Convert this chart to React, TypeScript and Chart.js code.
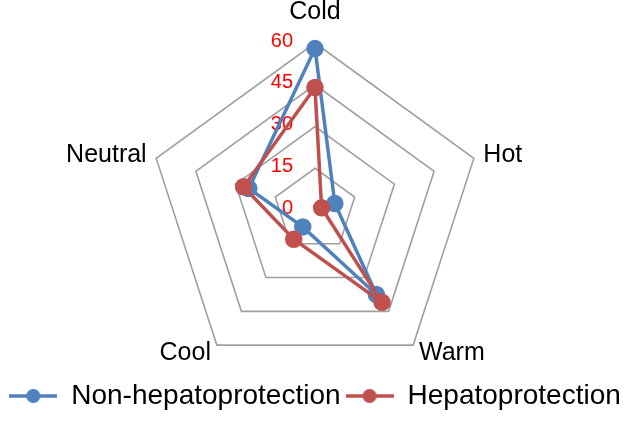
import React, { useEffect, useRef } from "react";
import { Chart, registerables } from "chart.js";

Chart.register(...registerables);

const categories = ["Cold", "Hot", "Warm", "Cool", "Neutral"];
const nonHepatoprotection = [58, 7.5, 37.5, 7.5, 25];
const hepatoprotection = [44, 2.5, 41, 13, 27];
const tickValues = [0, 15, 30, 45, 60];
const seriesNames = ["Non-hepatoprotection", "Hepatoprotection"];
const seriesColors = ["#4F81BD", "#C0504D"];

const FONT = '"Liberation Sans", Arial, sans-serif';

function makeMarker(color: string): HTMLCanvasElement {
  const c = document.createElement("canvas");
  c.width = 48;
  c.height = 16;
  const ctx = c.getContext("2d")!;
  ctx.strokeStyle = color;
  ctx.lineWidth = 3.5;
  ctx.beginPath();
  ctx.moveTo(0, 8);
  ctx.lineTo(48, 8);
  ctx.stroke();
  ctx.fillStyle = color;
  ctx.beginPath();
  ctx.arc(24, 8, 7, 0, Math.PI * 2);
  ctx.fill();
  return c;
}

const labelPlugin = {
  id: "customRadarLabels",
  beforeDatasetsDraw(chart: any) {
    const scale = chart.scales.r;
    const ctx = chart.ctx as CanvasRenderingContext2D;
    ctx.save();
    ctx.font = `20px ${FONT}`;
    ctx.fillStyle = "#FF0000";
    ctx.textAlign = "right";
    ctx.textBaseline = "middle";
    tickValues.forEach((v) => {
      const d = scale.getDistanceFromCenterForValue(v);
      ctx.fillText(String(v), scale.xCenter - 22, scale.yCenter - d - 2);
    });
    ctx.font = `25px ${FONT}`;
    ctx.fillStyle = "#000000";
    categories.forEach((label, i) => {
      const extra = i === 0 ? 18 : 10;
      const p = scale.getPointPosition(i, scale.drawingArea + extra);
      const dx = p.x - scale.xCenter;
      ctx.textAlign = Math.abs(dx) < 1 ? "center" : dx > 0 ? "left" : "right";
      ctx.textBaseline = i === 0 ? "bottom" : "middle";
      ctx.fillText(label, p.x, p.y);
    });
    ctx.restore();
  },
};

export default function App() {
  const ref = useRef<HTMLCanvasElement>(null);
  useEffect(() => {
    if (!ref.current) return;
    const markers = seriesColors.map((c) => makeMarker(c));
    const chart = new Chart(ref.current, {
      type: "radar",
      data: {
        labels: categories,
        datasets: [
          {
            label: seriesNames[0],
            data: nonHepatoprotection,
            borderColor: seriesColors[0],
            backgroundColor: seriesColors[0],
            pointBackgroundColor: seriesColors[0],
            pointBorderColor: seriesColors[0],
            borderWidth: 3.5,
            pointRadius: 7,
            fill: false,
            order: 2,
          },
          {
            label: seriesNames[1],
            data: hepatoprotection,
            borderColor: seriesColors[1],
            backgroundColor: seriesColors[1],
            pointBackgroundColor: seriesColors[1],
            pointBorderColor: seriesColors[1],
            borderWidth: 3.5,
            pointRadius: 7,
            fill: false,
            order: 1,
          },
        ],
      },
      options: {
        responsive: false,
        animation: false,
        layout: { padding: { top: 43, bottom: 1, left: 2, right: 0 } },
        scales: {
          r: {
            min: 0,
            max: 60,
            ticks: { stepSize: 15, display: false },
            pointLabels: { display: false },
            angleLines: { display: false },
            grid: { color: "#A0A0A0", lineWidth: 1.6 },
          },
        },
        plugins: {
          tooltip: { enabled: false },
          legend: {
            position: "bottom",
            labels: {
              usePointStyle: true,
              pointStyleWidth: 48,
              padding: 5,
              color: "#000000",
              font: { size: 28, family: FONT },
              generateLabels: (ch: any) =>
                ch.data.datasets.map((ds: any, i: number) => ({
                  text: ds.label,
                  fillStyle: seriesColors[i],
                  strokeStyle: seriesColors[i],
                  lineWidth: 0,
                  pointStyle: markers[i],
                  datasetIndex: i,
                  hidden: false,
                  fontColor: "#000000",
                })),
            },
          },
        },
      },
      plugins: [labelPlugin],
    });
    return () => chart.destroy();
  }, []);
  return (
    <div style={{ position: "fixed", left: 0, top: 0, width: 628, height: 421, background: "#fff" }}>
      <canvas ref={ref} width={628} height={421} />
    </div>
  );
}
